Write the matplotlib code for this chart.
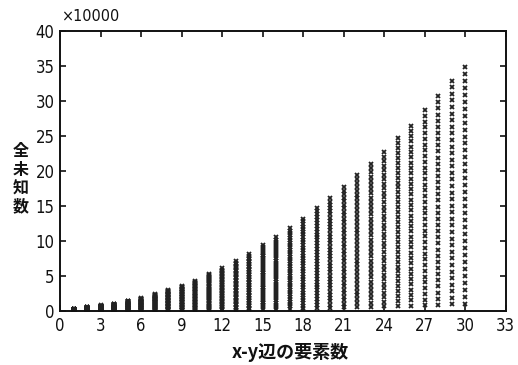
import numpy as np
import matplotlib
matplotlib.use("Agg")
import matplotlib.pyplot as plt

plt.rcParams['font.family'] = ['DejaVu Sans']
plt.rcParams['font.stretch'] = 'condensed'

# x-y side element counts and top of each column (x10000)
n_side = list(range(1, 31))
col_top = [0.35, 0.55, 0.8, 1.0, 1.45, 1.8, 2.4, 3.0, 3.6, 4.3,
           5.3, 6.1, 7.1, 8.1, 9.4, 10.5, 11.8, 13.2, 14.7, 16.1,
           17.7, 19.4, 21.0, 22.7, 24.7, 26.5, 28.7, 30.7, 32.9, 34.9]
n_marks = 35  # markers per column (spacing ~1 unit at n=30)

xticks = list(range(0, 34, 3))
yticks = list(range(0, 41, 5))

fig = plt.figure(figsize=(5.18, 3.65), dpi=100)
ax = fig.add_axes([0.116, 0.148, 0.860, 0.767])

for n, top in zip(n_side, col_top):
    ys = top * np.arange(1, n_marks + 1) / n_marks
    ax.plot(np.full(n_marks, n), ys, ls='none', marker='x', ms=3.2,
            mew=1.3, color='#222222')

ax.set_xlim(0, 33)
ax.set_ylim(0, 40)
ax.set_xticks(xticks)
ax.set_yticks(yticks)
ax.tick_params(direction='in', length=4, width=1.2, top=True, right=True,
               labelsize=12, pad=4, colors='#111111')
for s in ax.spines.values():
    s.set_linewidth(1.4)
    s.set_color('#111111')

fig.text(0.118, 0.955, '×10000', fontsize=11.5, ha='left', va='center',
         color='#111111')
fig.text(0.04, 0.51, '全\n未\n知\n数', fontsize=11.5, ha='center', va='center',
         family=['Noto Sans CJK JP', 'DejaVu Sans'], weight='bold',
         linespacing=1.2, color='#111111')
fig.text(0.56, 0.035, 'x-y辺の要素数', fontsize=13, ha='center', va='center',
         family=['Noto Sans CJK JP', 'DejaVu Sans'], weight='bold',
         color='#111111')

fig.savefig('out.png', dpi=100)
